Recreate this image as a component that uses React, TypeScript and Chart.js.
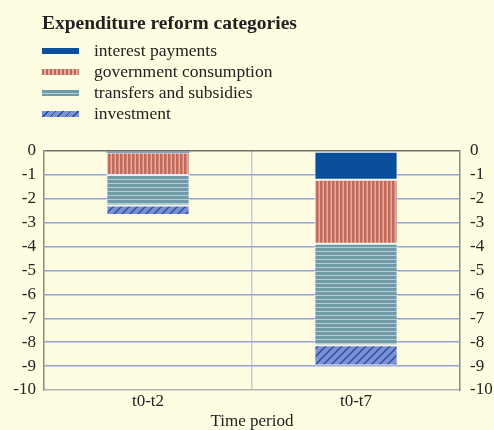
import React, { useEffect, useRef } from "react";
import { Chart, registerables } from "chart.js";

Chart.register(...registerables);

const categories = ["t0-t2", "t0-t7"];
const seriesNames = [
  "interest payments",
  "government consumption",
  "transfers and subsidies",
  "investment",
];
const interestPayments = [-0.06, -1.2];
const governmentConsumption = [-0.94, -2.68];
const transfersSubsidies = [-1.28, -4.25];
const investment = [-0.4, -0.84];
const yTicks = [0, -1, -2, -3, -4, -5, -6, -7, -8, -9, -10];

const BG = "#FEFCE1";
const FONT = '"Liberation Serif", "DejaVu Serif", "Times New Roman", serif';

function makePattern(kind: string): CanvasPattern | string {
  const c = document.createElement("canvas");
  const g = c.getContext("2d")!;
  if (kind === "gov") {
    c.width = 4; c.height = 4;
    g.fillStyle = "#E3AC9B"; g.fillRect(0, 0, 4, 4);
    g.fillStyle = "#C2695B"; g.fillRect(0, 0, 2.5, 4);
  } else if (kind === "transfers") {
    c.width = 4; c.height = 4;
    g.fillStyle = "#B5CFD5"; g.fillRect(0, 0, 4, 4);
    g.fillStyle = "#6F9BA8"; g.fillRect(0, 0, 4, 3);
  } else if (kind === "inv") {
    c.width = 8; c.height = 8;
    g.fillStyle = "#7D90D0"; g.fillRect(0, 0, 8, 8);
    g.strokeStyle = "#1F4FA8"; g.lineWidth = 1.3;
    for (let k = -1; k <= 1; k++) {
      g.beginPath();
      g.moveTo(k * 8 - 1, 9);
      g.lineTo(k * 8 + 9, -1);
      g.stroke();
    }
  } else {
    return "#0A4F9C";
  }
  const p = g.createPattern(c, "repeat");
  return p || "#888";
}

const swatchStyles: React.CSSProperties[] = [
  { background: "#0A4F9C" },
  { background: "repeating-linear-gradient(90deg, #C2695B 0px, #C2695B 2.5px, #E3AC9B 2.5px, #E3AC9B 4px)" },
  { background: "repeating-linear-gradient(180deg, #6F9BA8 0px, #6F9BA8 3px, #B5CFD5 3px, #B5CFD5 4px)" },
  { background: "repeating-linear-gradient(135deg, #7D90D0 0px, #7D90D0 4px, #1F4FA8 4px, #1F4FA8 5.3px)" },
];

export default function App() {
  const ref = useRef<HTMLCanvasElement | null>(null);

  useEffect(() => {
    document.body.style.margin = "0";
    document.body.style.background = BG;
    const canvas = ref.current!;
    const chart = new Chart(canvas, {
      type: "bar",
      data: {
        labels: categories,
        datasets: [
          { label: seriesNames[0], data: interestPayments, backgroundColor: makePattern("interest") as any },
          { label: seriesNames[1], data: governmentConsumption, backgroundColor: makePattern("gov") as any },
          { label: seriesNames[2], data: transfersSubsidies, backgroundColor: makePattern("transfers") as any },
          { label: seriesNames[3], data: investment, backgroundColor: makePattern("inv") as any },
        ].map((d) => ({
          ...d,
          borderColor: "rgba(240,244,250,0.9)",
          borderWidth: (c: any) => (Math.abs(c.raw ?? 1) < 0.1 ? 0 : 1),
          borderSkipped: false as any,
          barPercentage: 0.8,
          categoryPercentage: 0.5,
          yAxisID: "y",
        })),
      },
      options: {
        animation: false,
        responsive: false,
        layout: { padding: { top: 151, bottom: 0, left: 0, right: 0 } },
        plugins: {
          legend: { display: false },
          tooltip: { enabled: false },
        },
        scales: {
          x: {
            stacked: true,
            offset: true,
            grid: {
              offset: true,
              drawTicks: false,
              lineWidth: 1.5,
              color: (c: any) => (c.index === 1 ? "#C5CDD9" : "rgba(0,0,0,0)"),
            },
            border: { display: true, color: "#B4B4B4", width: 1.5 },
            ticks: { color: "#222", font: { family: FONT, size: 17, lineHeight: 1.0 }, padding: 3 },
            title: {
              display: true,
              text: "Time period",
              color: "#222",
              font: { family: FONT, size: 17, lineHeight: 1.0 },
              padding: { top: 0, bottom: 0 },
            },
          },
          y: {
            stacked: true,
            position: "left",
            min: -10,
            max: 0,
            afterBuildTicks: (s: any) => { s.ticks = yTicks.map((v) => ({ value: v })); },
            afterFit: (s: any) => { s.width = 44; },
            grid: {
              drawTicks: false,
              lineWidth: 1.5,
              color: (c: any) => {
                const v = c.tick ? c.tick.value : null;
                if (v === 0) return "#6E6E6E";
                if (v === -10) return "rgba(0,0,0,0)";
                return "#93A4D8";
              },
            },
            border: { display: true, color: "#8A8A8A", width: 1.5 },
            ticks: { color: "#222", font: { family: FONT, size: 17 }, padding: 8, stepSize: 1 },
          },
          y2: {
            position: "right",
            min: -10,
            max: 0,
            afterBuildTicks: (s: any) => { s.ticks = yTicks.map((v) => ({ value: v })); },
            afterFit: (s: any) => { s.width = 34; },
            grid: { display: false, drawTicks: false },
            border: { display: true, color: "#8A8A8A", width: 1.5 },
            ticks: { color: "#222", font: { family: FONT, size: 17 }, padding: 10, stepSize: 1 },
          },
        },
      },
    });
    return () => chart.destroy();
  }, []);

  return (
    <div style={{ position: "fixed", left: 0, top: 0, width: 494, height: 430, background: BG, overflow: "hidden" }}>
      <canvas ref={ref} width={494} height={430} style={{ position: "absolute", left: 0, top: 0 }} />
      <div style={{ position: "absolute", left: 42, top: 11, fontFamily: FONT, color: "#222" }}>
        <div style={{ fontWeight: "bold", fontSize: 19.5, lineHeight: "24px", marginBottom: 5, whiteSpace: "nowrap" }}>
          Expenditure reform categories
        </div>
        {seriesNames.map((n, i) => (
          <div key={n} style={{ display: "flex", alignItems: "center", height: 21, fontSize: 17.5, whiteSpace: "nowrap" }}>
            <span style={{ display: "inline-block", width: 37, height: 6, marginRight: 15, ...swatchStyles[i] }} />
            <span>{n}</span>
          </div>
        ))}
      </div>
    </div>
  );
}
